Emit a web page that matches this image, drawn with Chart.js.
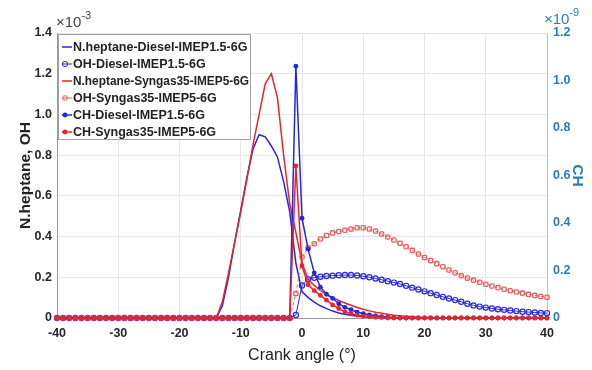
<!DOCTYPE html>
<html>
<head>
<meta charset="utf-8">
<script src="https://cdn.jsdelivr.net/npm/chart.js@4.4.1/dist/chart.umd.min.js"></script>
<style>body{margin:0;background:#fff}</style>
</head>
<body>
<canvas id="chart" width="592" height="370"></canvas>
<script>
// crank angle (deg)
var angle = [-40,-39,-38,-37,-36,-35,-34,-33,-32,-31,-30,-29,-28,-27,-26,-25,-24,-23,-22,-21,
  -20,-19,-18,-17,-16,-15,-14,-13,-12,-11,-10,-9,-8,-7,-6,-5,-4,-3,-2,-1,
  0,1,2,3,4,5,6,7,8,9,10,11,12,13,14,15,16,17,18,19,20,
  21,22,23,24,25,26,27,28,29,30,31,32,33,34,35,36,37,38,39,40];

// x1e-3 (left axis)
var nhDiesel = [0,0,0,0,0,0,0,0,0,0,0,0,0,0,0,0,0,0,0,0,
  0,0,0,0,0,0,0,0.06,0.2,0.37,0.53,0.69,0.83,0.9,0.89,0.845,0.79,0.67,0.52,0.27,
  0.13,0.1,0.078,0.06,0.046,0.034,0.025,0.018,0.013,0.009,0.006,0.004,0.003,0.002,0.001,0,0,0,0,0,0,
  0,0,0,0,0,0,0,0,0,0,0,0,0,0,0,0,0,0,0,0];
var ohDiesel = [0,0,0,0,0,0,0,0,0,0,0,0,0,0,0,0,0,0,0,0,
  0,0,0,0,0,0,0,0,0,0,0,0,0,0,0,0,0,0,0,0.015,
  0.16,0.19,0.198,0.203,0.206,0.208,0.21,0.211,0.211,0.209,0.205,0.2,0.194,0.188,0.181,0.174,0.167,0.158,0.149,0.14,0.131,
  0.122,0.113,0.104,0.096,0.088,0.08,0.07,0.062,0.056,0.051,0.047,0.043,0.04,0.037,0.034,0.031,0.029,0.027,0.025,0.024];
var nhSyngas = [0,0,0,0,0,0,0,0,0,0,0,0,0,0,0,0,0,0,0,0,
  0,0,0,0,0,0,0,0.08,0.22,0.37,0.52,0.68,0.85,1.0,1.15,1.2,1.08,0.8,0.56,0.42,
  0.27,0.19,0.16,0.135,0.115,0.1,0.086,0.074,0.063,0.052,0.043,0.035,0.028,0.023,0.018,0.014,0.011,0.008,0.006,0.004,0.003,
  0.002,0.001,0,0,0,0,0,0,0,0,0,0,0,0,0,0,0,0,0,0];
var ohSyngas = [0,0,0,0,0,0,0,0,0,0,0,0,0,0,0,0,0,0,0,0,
  0,0,0,0,0,0,0,0,0,0,0,0,0,0,0,0,0,0,0,0.12,
  0.3,0.345,0.365,0.388,0.405,0.418,0.425,0.431,0.437,0.443,0.443,0.437,0.427,0.413,0.398,0.383,0.367,0.35,0.332,0.314,0.297,
  0.282,0.267,0.252,0.236,0.222,0.208,0.196,0.186,0.176,0.166,0.157,0.149,0.141,0.134,0.128,0.122,0.116,0.111,0.106,0.102];
// x1e-9 (right axis)
var chDiesel = [0,0,0,0,0,0,0,0,0,0,0,0,0,0,0,0,0,0,0,0,
  0,0,0,0,0,0,0,0,0,0,0,0,0,0,0,0,0,0,0,1.06,
  0.42,0.29,0.19,0.13,0.1,0.083,0.06,0.045,0.035,0.025,0.018,0.013,0.009,0.006,0.004,0.002,0,0,0,0,0,
  0,0,0,0,0,0,0,0,0,0,0,0,0,0,0,0,0,0,0,0];
var chSyngas = [0,0,0,0,0,0,0,0,0,0,0,0,0,0,0,0,0,0,0,0,
  0,0,0,0,0,0,0,0,0,0,0,0,0,0,0,0,0,0,0,0.64,
  0.22,0.14,0.115,0.095,0.075,0.055,0.04,0.026,0.018,0.012,0.008,0.005,0.003,0.002,0,0,0,0,0,0,0,
  0,0,0,0,0,0,0,0,0,0,0,0,0,0,0,0,0,0,0,0];

var seriesNames = ['N.heptane-Diesel-IMEP1.5-6G', 'OH-Diesel-IMEP1.5-6G', 'N.heptane-Syngas35-IMEP5-6G',
  'OH-Syngas35-IMEP5-6G', 'CH-Diesel-IMEP1.5-6G', 'CH-Syngas35-IMEP5-6G'];

var BLUE = '#2626e0';
var RED = '#e8262a';
var LIGHTRED = '#ec5a5a';
var AXBLUE = '#2a7db8';
var FONT = "'Liberation Sans', Arial, sans-serif";

function pts(vals) {
    return angle.map(function (a, i) { return {x: a, y: vals[i]}; });
}

function makeSet(i, vals, axis, color, extra) {
    var ds = {
        label: seriesNames[i],
        data: pts(vals),
        yAxisID: axis,
        borderColor: color,
        backgroundColor: color,
        borderWidth: 1.5,
        pointRadius: 0,
        tension: 0,
        clip: false,
        order: 6 - i
    };
    for (var k in extra) ds[k] = extra[k];
    return ds;
}

var datasets = [
    makeSet(0, nhDiesel, 'y', BLUE, {}),
    makeSet(1, ohDiesel, 'y', BLUE, {borderWidth: 1, pointRadius: 2.6, pointBorderWidth: 1.2,
        pointStyle: 'circle', pointBackgroundColor: 'rgba(0,0,0,0)', pointBorderColor: BLUE}),
    makeSet(2, nhSyngas, 'y', RED, {}),
    makeSet(3, ohSyngas, 'y', LIGHTRED, {borderWidth: 1, borderDash: [3, 3], pointRadius: 2.5, pointBorderWidth: 1.3,
        pointStyle: 'rectRounded', pointBackgroundColor: 'rgba(0,0,0,0)', pointBorderColor: LIGHTRED}),
    makeSet(4, chDiesel, 'y2', BLUE, {pointRadius: 2.4, pointStyle: 'circle', pointBorderWidth: 0}),
    makeSet(5, chSyngas, 'y2', RED, {pointRadius: 2.4, pointStyle: 'circle', pointBorderWidth: 0})
];

// legend box inside the plot, top left
var legendBox = {
    id: 'legendBox',
    afterDatasetsDraw: function (chart) {
        var ctx = chart.ctx;
        ctx.save();
        ctx.fillStyle = '#fff';
        ctx.strokeStyle = '#a0a0a0';
        ctx.lineWidth = 1;
        ctx.fillRect(58.5, 34.5, 192, 105);
        ctx.strokeRect(58.5, 34.5, 192, 105);
        chart.data.datasets.forEach(function (ds, i) {
            var y = 47 + i * 17;
            ctx.strokeStyle = ds.borderColor;
            ctx.lineWidth = ds.borderWidth;
            ctx.setLineDash([]);
            ctx.beginPath();
            ctx.moveTo(62, y);
            ctx.lineTo(72, y);
            ctx.stroke();
            if (ds.pointRadius > 0) {
                ctx.fillStyle = ds.pointBackgroundColor || ds.borderColor;
                ctx.strokeStyle = ds.pointBorderColor || ds.borderColor;
                Chart.helpers.drawPoint(ctx, {pointStyle: ds.pointStyle, rotation: 0,
                    radius: ds.pointRadius, borderWidth: ds.pointBorderWidth}, 65, y);
            }
            ctx.fillStyle = '#222';
            ctx.font = 'bold 12.5px ' + FONT;
            ctx.textBaseline = 'middle';
            ctx.textAlign = 'left';
            ctx.fillText(ds.label, 73, y + 1, 176);
        });
        ctx.restore();
    }
};

// x10^n exponent labels
var exponents = {
    id: 'exponents',
    afterDraw: function (chart) {
        var ctx = chart.ctx;
        function put(x, y, exp, color) {
            ctx.fillStyle = color;
            ctx.textBaseline = 'alphabetic';
            ctx.textAlign = 'left';
            ctx.font = '15px ' + FONT;
            ctx.fillText('\u00d710', x, y);
            var w = ctx.measureText('\u00d710').width;
            ctx.font = '11px ' + FONT;
            ctx.fillText(exp, x + w, y - 8);
        }
        ctx.save();
        put(56, 27, '-3', '#444');
        put(544, 24, '-9', AXBLUE);
        ctx.restore();
    }
};

var ctx = document.getElementById('chart').getContext('2d');
var chart = new Chart(ctx, {
    type: 'line',
    data: {datasets: datasets},
    options: {
        responsive: false,
        animation: false,
        devicePixelRatio: 1,
        layout: {padding: {top: 33}},
        plugins: {legend: {display: false}, tooltip: {enabled: false}},
        scales: {
            x: {
                type: 'linear', min: -40, max: 40,
                afterFit: function (s) { s.height = 52; },
                ticks: {stepSize: 10, color: '#262626', padding: 8, font: {family: FONT, size: 12.5, weight: 'bold'}},
                grid: {color: '#e6e6e6', drawTicks: false},
                border: {color: '#9a9a9a'},
                title: {display: true, text: 'Crank angle (\u00b0)', color: '#222',
                    font: {family: FONT, size: 16}, padding: {top: 0, bottom: 5}}
            },
            y: {
                position: 'left', min: 0, max: 1.4,
                afterFit: function (s) { s.width = 57; },
                ticks: {stepSize: 0.2, color: '#262626', padding: 5, font: {family: FONT, size: 12.5, weight: 'bold'}},
                grid: {color: '#e6e6e6', drawTicks: false},
                border: {color: '#9a9a9a'},
                title: {display: true, text: 'N.heptane, OH', color: '#222',
                    font: {family: FONT, size: 15.5, weight: 'bold'}, padding: {top: 16, bottom: 0}}
            },
            y2: {
                position: 'right', min: 0, max: 1.2,
                afterFit: function (s) { s.width = 45; },
                ticks: {stepSize: 0.2, color: AXBLUE, padding: 6, font: {family: FONT, size: 12.5, weight: 'bold'}},
                grid: {drawOnChartArea: false, drawTicks: false},
                border: {color: '#a9c9e2'},
                title: {display: true, text: 'CH', color: AXBLUE,
                    font: {family: FONT, size: 15.5, weight: 'bold'}, padding: {top: 5, bottom: 0}}
            }
        }
    },
    plugins: [legendBox, exponents]
});
</script>
</body>
</html>
